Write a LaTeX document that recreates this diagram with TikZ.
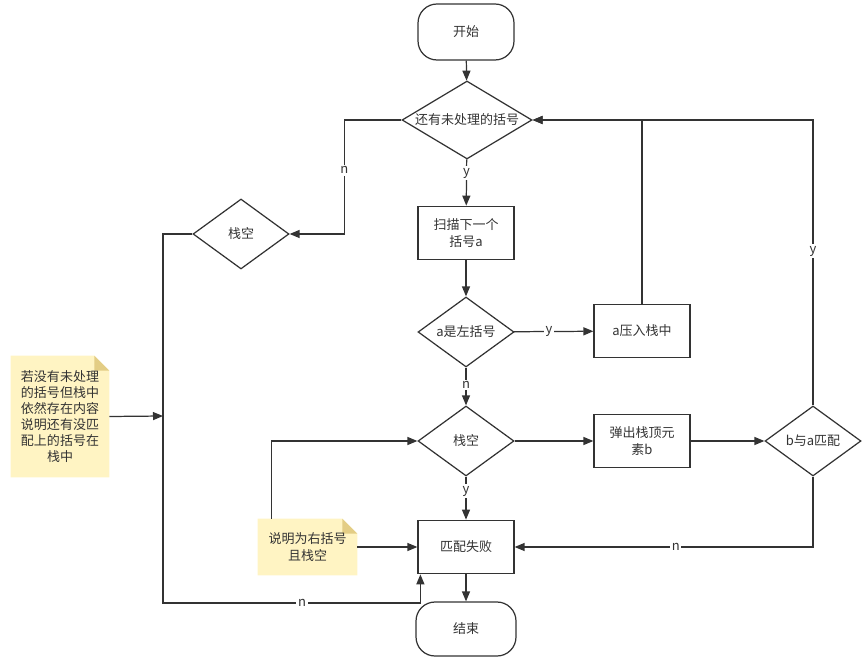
\documentclass[tikz,border=0pt]{standalone}
\usepackage{fontspec}
\setmainfont{Noto Sans CJK SC}
\usetikzlibrary{shapes.geometric,arrows.meta,backgrounds}

\definecolor{linegray}{HTML}{333333}
\definecolor{notefill}{HTML}{FFF4C3}
\definecolor{notefold}{HTML}{E3CD85}

\begin{document}
\begin{tikzpicture}[x=0.02cm,y=-0.02cm,
        every node/.style={font=\fontsize{7.4}{9.2}\selectfont,text=linegray,align=center},
        startstop/.style={draw=linegray,line width=0.7pt,rounded corners=0.38cm,minimum width=1.92cm,minimum height=1.12cm,inner sep=0pt},
        box/.style={draw=linegray,line width=0.7pt,minimum width=1.92cm,minimum height=1.07cm,inner sep=0pt},
        decision/.style={diamond,draw=linegray,line width=0.7pt,shape aspect=1.4,minimum width=1.92cm,minimum height=1.4cm,inner sep=0pt},
        memo/.style={inner sep=0pt},
        lbl/.style={fill=white,inner sep=1pt},
        link/.style={draw=linegray,line width=0.7pt},
        flow/.style={link,-{Triangle[length=0.2cm,width=0.16cm]}}]
    \useasboundingbox (0,0) rectangle (864,661);

    % main column
    \node[startstop] (start) at (466,32) {开始};
    \node[decision,shape aspect=1.67,minimum width=2.6cm,minimum height=1.56cm] (left) at (467,120) {还有未处理的括号};
    \node[box] (scan) at (466,233) {扫描下一个\\括号a};
    \node[decision] (isopen) at (466,332) {a是左括号};
    \node[box] (push) at (642,331) {a压入栈中};
    \node[decision] (empty) at (466,441) {栈空};
    \node[box] (pop) at (642,441) {弹出栈顶元\\素b};
    \node[decision] (match) at (813,441) {b与a匹配};
    \node[box] (fail) at (466,547) {匹配失败};
    \node[startstop,minimum width=2cm,minimum height=1.08cm] (stop) at (466,629) {结束};

    % left branch
    \node[decision] (lastempty) at (241,234) {栈空};
    \coordinate (join) at (163,416);
    \coordinate (lowturn) at (163,603);

    % notes
    \node[memo,minimum width=1.96cm,minimum height=2.42cm] (note1) at (60,416.5) {若没有未处理\\的括号但栈中\\依然存在内容\\说明还有没匹\\配上的括号在\\栈中};
    \node[memo,minimum width=1.98cm,minimum height=1.12cm] (note2) at (307.5,547) {说明为右括号\\且栈空};
    \begin{scope}[on background layer]
        \foreach \n in {note1,note2} {
            \fill[notefill] (\n.south west) -- (\n.north west) -- ([xshift=-0.3cm]\n.north east)
                -- ([yshift=-0.3cm]\n.north east) -- (\n.south east) -- cycle;
            \fill[notefold] ([xshift=-0.3cm]\n.north east) -- ([xshift=-0.3cm,yshift=-0.3cm]\n.north east)
                -- ([yshift=-0.3cm]\n.north east) -- cycle;
        }
    \end{scope}

    \draw[flow] (start) -- (left);
    \draw[flow] (left) -- node[lbl,pos=0.3] {y} (scan);
    \draw[flow] (scan) -- (isopen);
    \draw[flow] (isopen) -- node[lbl,pos=0.44] {y} (push);
    \draw[flow] (push.north) |- (left.east);
    \draw[flow] (isopen) -- node[lbl,pos=0.46] {n} (empty);
    \draw[flow] (empty) -- (pop);
    \draw[flow] (pop) -- (match);
    \draw[flow] (match.north) |- node[lbl,pos=0.27] {y} (left.east);
    \draw[flow] (match.south) |- node[lbl,pos=0.73] {n} (fail.east);
    \draw[flow] (empty) -- node[lbl,pos=0.34] {y} (fail);
    \draw[flow] (fail) -- (stop);

    \draw[flow] (left.west) -- ++(-57,0) |- node[lbl,pos=0.22] {n} (lastempty.east);
    \draw[flow] (lastempty.west) -| (lowturn) -| node[lbl,pos=0.27] {n} ([xshift=0.06cm]fail.south west);
    \draw[flow] (note1.east) -- (join);
    \draw[flow] (note2.east) -- (fail.west);
    \draw[flow] ([xshift=0.28cm]note2.north west) |- (empty.west);
\end{tikzpicture}
\end{document}
